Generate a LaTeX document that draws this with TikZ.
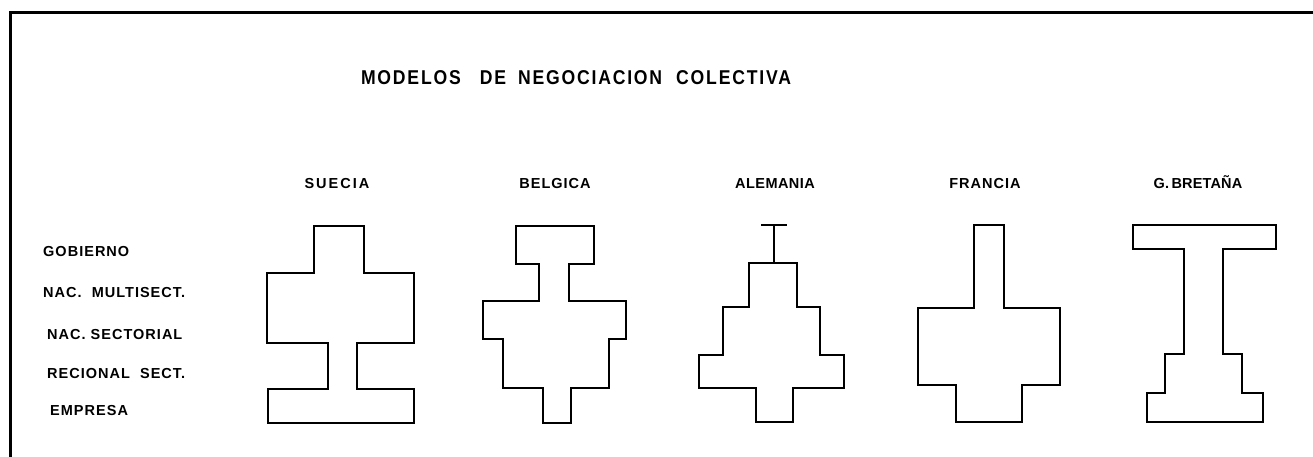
\documentclass[tikz,border=0pt]{standalone}
\usepackage{fontspec}
\setmainfont{Liberation Sans}
\newfontfamily\lettering[LetterSpace=7]{Liberation Sans Bold}
\newfontfamily\titling[LetterSpace=9,FakeStretch=0.88]{Liberation Sans Bold}

\begin{document}
\begin{tikzpicture}[x=1pt,y=-1pt]
\tikzstyle{outline}=[line width=2.9pt, line join=miter]
\tikzstyle{frame}=[line width=3pt]
\tikzstyle{level}=[anchor=west, inner sep=0pt, text height=10.5pt, text depth=0pt, font=\lettering\fontsize{14.5}{15}\selectfont]
\tikzstyle{country}=[inner sep=0pt, text height=10.5pt, text depth=0pt, font=\lettering\fontsize{14.5}{15}\selectfont]
\tikzstyle{heading}=[inner sep=0pt, text height=14pt, text depth=0pt, font=\titling\fontsize{20}{20}\selectfont]

\useasboundingbox (0,0) rectangle (1313,456);
\draw[frame] (10,458) -- (10,12) -- (1315,12);

\node (titulo) at (576,77) [heading] {MODELOS\hspace{19pt}DE\hspace{12pt}NEGOCIACION\hspace{14pt}COLECTIVA};

\node (suecia) at (337,183) [country] {\addfontfeature{LetterSpace=14}SUECIA};
\node (belgica) at (555,183) [country] {BELGICA};
\node (alemania) at (775,183) [country] {\addfontfeature{LetterSpace=3}ALEMANIA};
\node (francia) at (985,183) [country] {FRANCIA};
\node (gbretana) at (1198,183) [country] {\addfontfeature{LetterSpace=1}G.\,BRETAÑA};

\node (gobierno) at (43,251) [level] {GOBIERNO};
\node (multisect) at (43,292) [level] {NAC.\ \ MULTISECT.};
\node (sectorial) at (47,334) [level] {NAC.\ SECTORIAL};
\node (regional) at (47,373) [level] {RECIONAL\ \ SECT.};
\node (empresa) at (50,410) [level] {EMPRESA};

\draw[outline] (314,226) -- (364,226) -- (364,273) -- (414,273) -- (414,343) -- (357,343) -- (357,389) -- (414,389) -- (414,423) -- (268,423) -- (268,389) -- (328,389) -- (328,343) -- (267,343) -- (267,273) -- (314,273) -- cycle;

\draw[outline] (516,226) -- (594,226) -- (594,264) -- (569,264) -- (569,301) -- (626,301) -- (626,339) -- (609,339) -- (609,388) -- (571,388) -- (571,423) -- (543,423) -- (543,388) -- (503,388) -- (503,339) -- (483,339) -- (483,301) -- (539,301) -- (539,264) -- (516,264) -- cycle;

\draw[outline] (761,225) -- (787,225);
\draw[outline] (774,225) -- (774,263);
\draw[outline] (749,263) -- (797,263) -- (797,307) -- (820,307) -- (820,355) -- (844,355) -- (844,388) -- (793,388) -- (793,422) -- (756,422) -- (756,388) -- (699,388) -- (699,355) -- (723,355) -- (723,307) -- (749,307) -- cycle;

\draw[outline] (974,225) -- (1004,225) -- (1004,308) -- (1060,308) -- (1060,385) -- (1022,385) -- (1022,422) -- (956,422) -- (956,385) -- (918,385) -- (918,308) -- (974,308) -- cycle;

\draw[outline] (1133,225) -- (1276,225) -- (1276,249) -- (1223,249) -- (1223,354) -- (1242,354) -- (1242,393) -- (1263,393) -- (1263,422) -- (1147,422) -- (1147,393) -- (1165,393) -- (1165,354) -- (1184,354) -- (1184,249) -- (1133,249) -- cycle;
\end{tikzpicture}
\end{document}
